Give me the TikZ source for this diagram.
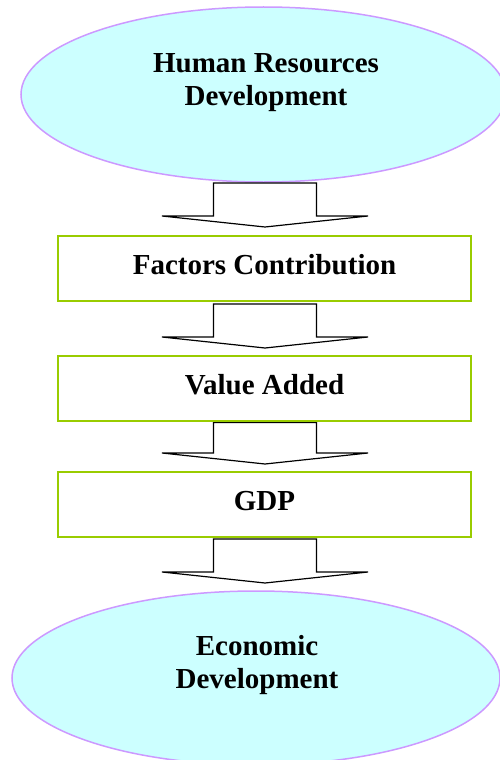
\documentclass[tikz,border=0pt]{standalone}
\usepackage{fontspec}
\setmainfont{Liberation Serif}
\usetikzlibrary{shapes.geometric,calc}
\definecolor{ellfill}{HTML}{CCFFFF}
\definecolor{elldraw}{HTML}{CC99FF}
\definecolor{boxdraw}{HTML}{99CC00}
\newcommand\blkarrow[2]{\draw[blockarrow] let \p1=(#1), \p2=(#2) in
  (\x1-51.5pt,\y1) -- (\x1+51.5pt,\y1) -- (\x1+51.5pt,\y2+11pt) -- (\x1+103pt,\y2+11pt)
  -- (\x1,\y2) -- (\x1-103pt,\y2+11pt) -- (\x1-51.5pt,\y2+11pt) -- cycle;}
\begin{document}
\begin{tikzpicture}[x=1pt,y=1pt,
  ellbox/.style={ellipse, draw=elldraw, fill=ellfill, line width=1.5pt, inner sep=0pt},
  stagebox/.style={rectangle, draw=boxdraw, line width=1.6pt, minimum width=413pt,
    minimum height=65pt, inner sep=0pt, font=\bfseries\fontsize{29}{34}\selectfont,
    text height=20pt, text depth=9pt},
  lbl/.style={font=\bfseries\fontsize{29}{34}\selectfont, inner sep=0pt, anchor=base},
  blockarrow/.style={draw=black, fill=white, line width=1.2pt, line join=miter}]
\fill[white] (0,0) rectangle (500,-760);
\useasboundingbox (0,0) rectangle (500,-760);
\clip (0,0) rectangle (500,-760);

% top ellipse
\node[ellbox, minimum width=485pt, minimum height=175pt] (hrd) at (263.5,-94.5) {};
\node[lbl] (hrdA) at (266,-72) {Human Resources};
\node[lbl] (hrdB) at (266,-105) {Development};

% bottom ellipse
\node[ellbox, minimum width=488pt, minimum height=174pt] (ed) at (256,-678) {};
\node[lbl] (edA) at (257,-655) {Economic};
\node[lbl] (edB) at (257,-688) {Development};

% block arrows
\coordinate (a1s) at (265,-183); \coordinate (a1e) at (265,-227);
\coordinate (a2s) at (265,-304); \coordinate (a2e) at (265,-348);
\coordinate (a3s) at (265,-422.5); \coordinate (a3e) at (265,-464);
\coordinate (a4s) at (265,-539); \coordinate (a4e) at (265,-583);
\blkarrow{a1s}{a1e}
\blkarrow{a2s}{a2e}
\blkarrow{a3s}{a3e}
\blkarrow{a4s}{a4e}

% boxes
\node[stagebox] (fc) at (264.5,-268.5) {Factors Contribution};
\node[stagebox] (va) at (264.5,-388.5) {Value Added};
\node[stagebox] (gdp) at (264.5,-504.5) {GDP};
\end{tikzpicture}
\end{document}
